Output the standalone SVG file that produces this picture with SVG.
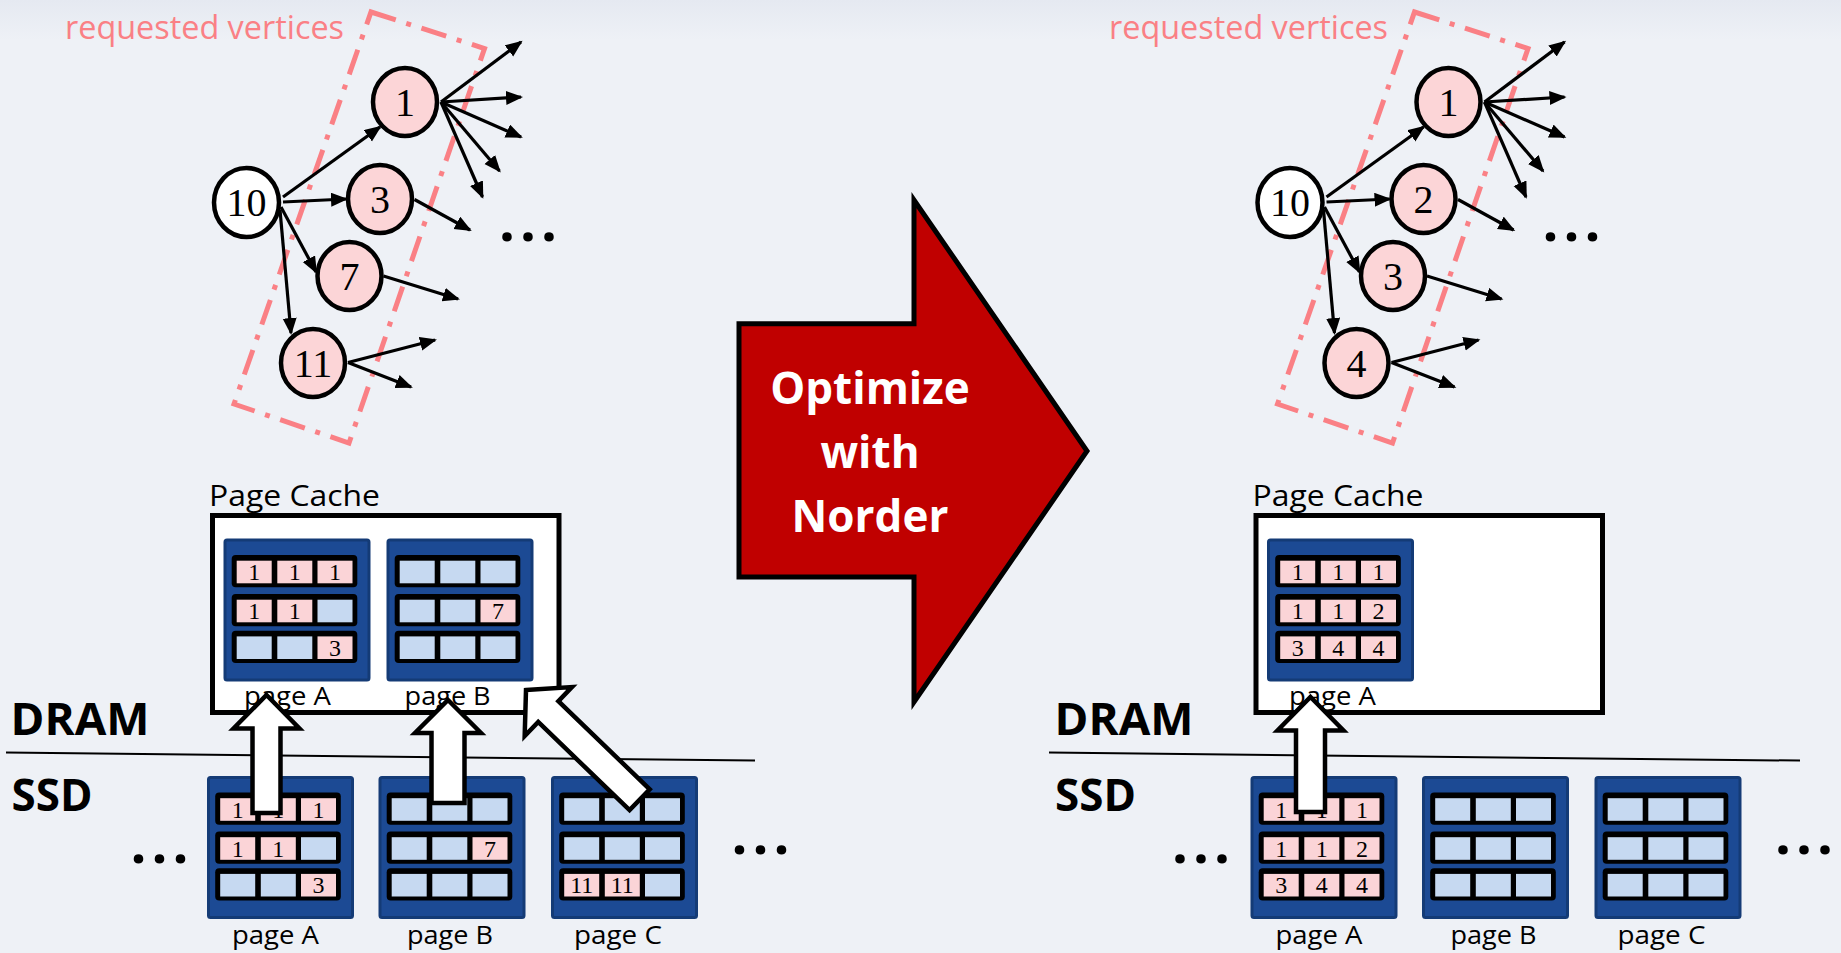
<svg xmlns="http://www.w3.org/2000/svg" xmlns:xlink="http://www.w3.org/1999/xlink" width="1841" height="953" viewBox="0 0 1841 953">
<style>
.bg{fill:#EEF1F6}
.node{stroke:#000;stroke-width:4.5}
.pinkn{fill:#FCD5D7}
.whiten{fill:#fff}
.nlab{font-family:"Liberation Serif",serif;font-size:40px;text-anchor:middle;fill:#000}
.edge{stroke:#000;stroke-width:3.2;fill:none;marker-end:url(#ah)}
.req{fill:none;stroke:#FA8085;stroke-width:5;stroke-dasharray:26 11 5 11}
.reqt{font-family:"Open Sans",sans-serif;font-size:32px;fill:#FA8085}
.lbl{font-family:"Open Sans",sans-serif;font-size:26px;fill:#000}
.cap{font-family:"Open Sans",sans-serif;font-size:30px;fill:#000}
.big{font-family:"Open Sans",sans-serif;font-weight:bold;font-size:44px;fill:#000}
.dots{font-family:"Open Sans",sans-serif;font-weight:bold;font-size:56px;fill:#000;letter-spacing:5px}
.opt{font-family:"Open Sans",sans-serif;font-weight:bold;font-size:44px;fill:#fff;text-anchor:middle}
.pk{fill:#FBD4D7}
.bl{fill:#C6D9F1}
.ct{font-family:"Liberation Serif",serif;font-size:24px;text-anchor:middle;fill:#000}
.barrow{fill:#fff;stroke:#000;stroke-width:4.5;stroke-linejoin:miter}
.div{stroke:#000;stroke-width:2}
.cache{fill:#fff;stroke:#000;stroke-width:5}
</style>
<defs>
<linearGradient id="topg" x1="0" y1="0" x2="0" y2="1">
<stop offset="0" stop-color="#E5E9F1"/>
<stop offset="1" stop-color="#EEF1F6"/>
</linearGradient>
<marker id="ah" markerUnits="userSpaceOnUse" markerWidth="18" markerHeight="16" refX="15" refY="7" orient="auto">
<path d="M0,0 L17,7 L0,14 Z" fill="#000"/>
</marker>
<g id="blk">
<rect x="0" y="0" width="144" height="140" rx="2" fill="#1C4A94" stroke="#143B76" stroke-width="3"/>
<rect x="6.7" y="15" width="125.6" height="32.3" rx="4" fill="#000"/>
<rect x="6.7" y="54" width="125.6" height="32.3" rx="4" fill="#000"/>
<rect x="6.7" y="90.7" width="125.6" height="32.3" rx="4" fill="#000"/>
</g>
</defs>
<rect class="bg" x="0" y="0" width="1841" height="953"/>
<rect x="0" y="0" width="1841" height="40" fill="url(#topg)"/>

<!-- LEFT GRAPH -->
<g id="left-requested">
<polygon class="req" points="371,12 484.5,48.5 349,443 234,404"/>
<text class="reqt" x="65" y="39" textLength="279" lengthAdjust="spacingAndGlyphs">requested vertices</text>
</g>
<g id="left-edges">
<line class="edge" x1="283" y1="197" x2="380" y2="127"/>
<line class="edge" x1="283" y1="202" x2="346" y2="199"/>
<line class="edge" x1="281" y1="207" x2="316" y2="272"/>
<line class="edge" x1="280" y1="210" x2="291" y2="333"/>
<line class="edge" x1="441" y1="102" x2="521" y2="42"/>
<line class="edge" x1="441" y1="102" x2="521" y2="97"/>
<line class="edge" x1="441" y1="102" x2="521" y2="137"/>
<line class="edge" x1="441" y1="102" x2="499.5" y2="171"/>
<line class="edge" x1="441" y1="102" x2="482.5" y2="197"/>
<line class="edge" x1="414.5" y1="199.5" x2="470" y2="230"/>
<line class="edge" x1="383.5" y1="276" x2="458" y2="299"/>
<line class="edge" x1="348" y1="362.5" x2="435" y2="340"/>
<line class="edge" x1="348" y1="362.5" x2="411" y2="387"/>
</g>
<g id="left-n10"><ellipse class="node whiten" cx="246.5" cy="202.5" rx="32.5" ry="34.5"/><text class="nlab" x="246.5" y="216">10</text></g>
<g id="left-n1"><ellipse class="node pinkn" cx="405" cy="102" rx="32" ry="34"/><text class="nlab" x="405" y="115.5">1</text></g>
<g id="left-n3"><ellipse class="node pinkn" cx="380" cy="199" rx="32" ry="34"/><text class="nlab" x="380" y="212.5">3</text></g>
<g id="left-n7"><ellipse class="node pinkn" cx="349.5" cy="276" rx="32" ry="34"/><text class="nlab" x="349.5" y="289.5">7</text></g>
<g id="left-n11"><ellipse class="node pinkn" cx="313" cy="363" rx="32" ry="34"/><text class="nlab" x="313" y="376.5">11</text></g>
<text class="dots" x="499" y="241">...</text>

<!-- CENTER ARROW -->
<g id="optimize">
<polygon points="739,323.8 914,323.8 914,200 1087,451 914,702 914,577 739,577" fill="#C00000" stroke="#000" stroke-width="5"/>
<text class="opt" x="870" y="404">Optimize</text>
<text class="opt" x="870" y="468">with</text>
<text class="opt" x="870" y="532">Norder</text>
</g>

<!-- RIGHT GRAPH -->
<g id="right-requested">
<polygon class="req" points="1414.5,12 1528,48.5 1392.5,443 1277.5,404"/>
<text class="reqt" x="1109" y="39" textLength="279" lengthAdjust="spacingAndGlyphs">requested vertices</text>
</g>
<g id="right-edges" transform="translate(1043.5,0)">
<line class="edge" x1="283" y1="197" x2="380" y2="127"/>
<line class="edge" x1="283" y1="202" x2="346" y2="199"/>
<line class="edge" x1="281" y1="207" x2="316" y2="272"/>
<line class="edge" x1="280" y1="210" x2="291" y2="333"/>
<line class="edge" x1="441" y1="102" x2="521" y2="42"/>
<line class="edge" x1="441" y1="102" x2="521" y2="97"/>
<line class="edge" x1="441" y1="102" x2="521" y2="137"/>
<line class="edge" x1="441" y1="102" x2="499.5" y2="171"/>
<line class="edge" x1="441" y1="102" x2="482.5" y2="197"/>
<line class="edge" x1="414.5" y1="199.5" x2="470" y2="230"/>
<line class="edge" x1="383.5" y1="276" x2="458" y2="299"/>
<line class="edge" x1="348" y1="362.5" x2="435" y2="340"/>
<line class="edge" x1="348" y1="362.5" x2="411" y2="387"/>
</g>
<g id="right-n10"><ellipse class="node whiten" cx="1290" cy="202.5" rx="32.5" ry="34.5"/><text class="nlab" x="1290" y="216">10</text></g>
<g id="right-n1"><ellipse class="node pinkn" cx="1448.5" cy="102" rx="32" ry="34"/><text class="nlab" x="1448.5" y="115.5">1</text></g>
<g id="right-n2"><ellipse class="node pinkn" cx="1423.5" cy="199" rx="32" ry="34"/><text class="nlab" x="1423.5" y="212.5">2</text></g>
<g id="right-n3"><ellipse class="node pinkn" cx="1393" cy="276" rx="32" ry="34"/><text class="nlab" x="1393" y="289.5">3</text></g>
<g id="right-n4"><ellipse class="node pinkn" cx="1356.5" cy="363" rx="32" ry="34"/><text class="nlab" x="1356.5" y="376.5">4</text></g>
<text class="dots" x="1542.5" y="241">...</text>

<!-- LEFT MEMORY -->
<g id="left-cache">
<text class="cap" x="209" y="506" textLength="171" lengthAdjust="spacingAndGlyphs">Page Cache</text>
<rect class="cache" x="212.5" y="515.5" width="346.5" height="197"/>
</g>
<g id="left-cache-pageA" transform="translate(225,540)">
<use xlink:href="#blk"/>
<rect class="pk" x="11.7" y="20.7" width="35" height="22.6"/><rect class="pk" x="52.3" y="20.7" width="35" height="22.6"/><rect class="pk" x="92.5" y="20.7" width="35" height="22.6"/>
<rect class="pk" x="11.7" y="59.7" width="35" height="22.6"/><rect class="pk" x="52.3" y="59.7" width="35" height="22.6"/><rect class="bl" x="92.5" y="59.7" width="35" height="22.6"/>
<rect class="bl" x="11.7" y="96.4" width="35" height="22.6"/><rect class="bl" x="52.3" y="96.4" width="35" height="22.6"/><rect class="pk" x="92.5" y="96.4" width="35" height="22.6"/>
<text class="ct" x="29.2" y="40">1</text><text class="ct" x="69.8" y="40">1</text><text class="ct" x="110" y="40">1</text>
<text class="ct" x="29.2" y="79">1</text><text class="ct" x="69.8" y="79">1</text>
<text class="ct" x="110" y="115.7">3</text>
</g>
<g id="left-cache-pageB" transform="translate(388,540)">
<use xlink:href="#blk"/>
<rect class="bl" x="11.7" y="20.7" width="35" height="22.6"/><rect class="bl" x="52.3" y="20.7" width="35" height="22.6"/><rect class="bl" x="92.5" y="20.7" width="35" height="22.6"/>
<rect class="bl" x="11.7" y="59.7" width="35" height="22.6"/><rect class="bl" x="52.3" y="59.7" width="35" height="22.6"/><rect class="pk" x="92.5" y="59.7" width="35" height="22.6"/>
<rect class="bl" x="11.7" y="96.4" width="35" height="22.6"/><rect class="bl" x="52.3" y="96.4" width="35" height="22.6"/><rect class="bl" x="92.5" y="96.4" width="35" height="22.6"/>
<text class="ct" x="110" y="79">7</text>
</g>
<text class="lbl" x="244" y="705" textLength="87" lengthAdjust="spacingAndGlyphs">page A</text>
<text class="lbl" x="404.6" y="705" textLength="86" lengthAdjust="spacingAndGlyphs">page B</text>

<text class="big" x="10.5" y="735" textLength="139" lengthAdjust="spacingAndGlyphs">DRAM</text>
<text class="big" x="11.5" y="811" textLength="81" lengthAdjust="spacingAndGlyphs">SSD</text>
<line class="div" x1="6" y1="752.6" x2="755" y2="760.6"/>

<g id="left-ssd-pageA" transform="translate(208.5,777.5)">
<use xlink:href="#blk"/>
<rect class="pk" x="11.7" y="20.7" width="35" height="22.6"/><rect class="pk" x="52.3" y="20.7" width="35" height="22.6"/><rect class="pk" x="92.5" y="20.7" width="35" height="22.6"/>
<rect class="pk" x="11.7" y="59.7" width="35" height="22.6"/><rect class="pk" x="52.3" y="59.7" width="35" height="22.6"/><rect class="bl" x="92.5" y="59.7" width="35" height="22.6"/>
<rect class="bl" x="11.7" y="96.4" width="35" height="22.6"/><rect class="bl" x="52.3" y="96.4" width="35" height="22.6"/><rect class="pk" x="92.5" y="96.4" width="35" height="22.6"/>
<text class="ct" x="29.2" y="40">1</text><text class="ct" x="69.8" y="40">1</text><text class="ct" x="110" y="40">1</text>
<text class="ct" x="29.2" y="79">1</text><text class="ct" x="69.8" y="79">1</text>
<text class="ct" x="110" y="115.7">3</text>
</g>
<g id="left-ssd-pageB" transform="translate(380,777.5)">
<use xlink:href="#blk"/>
<rect class="bl" x="11.7" y="20.7" width="35" height="22.6"/><rect class="bl" x="52.3" y="20.7" width="35" height="22.6"/><rect class="bl" x="92.5" y="20.7" width="35" height="22.6"/>
<rect class="bl" x="11.7" y="59.7" width="35" height="22.6"/><rect class="bl" x="52.3" y="59.7" width="35" height="22.6"/><rect class="pk" x="92.5" y="59.7" width="35" height="22.6"/>
<rect class="bl" x="11.7" y="96.4" width="35" height="22.6"/><rect class="bl" x="52.3" y="96.4" width="35" height="22.6"/><rect class="bl" x="92.5" y="96.4" width="35" height="22.6"/>
<text class="ct" x="110" y="79">7</text>
</g>
<g id="left-ssd-pageC" transform="translate(552.5,777.5)">
<use xlink:href="#blk"/>
<rect class="bl" x="11.7" y="20.7" width="35" height="22.6"/><rect class="bl" x="52.3" y="20.7" width="35" height="22.6"/><rect class="bl" x="92.5" y="20.7" width="35" height="22.6"/>
<rect class="bl" x="11.7" y="59.7" width="35" height="22.6"/><rect class="bl" x="52.3" y="59.7" width="35" height="22.6"/><rect class="bl" x="92.5" y="59.7" width="35" height="22.6"/>
<rect class="pk" x="11.7" y="96.4" width="35" height="22.6"/><rect class="pk" x="52.3" y="96.4" width="35" height="22.6"/><rect class="bl" x="92.5" y="96.4" width="35" height="22.6"/>
<text class="ct" x="29.2" y="115.7">11</text><text class="ct" x="69.8" y="115.7">11</text>
</g>
<text class="lbl" x="232" y="944" textLength="87" lengthAdjust="spacingAndGlyphs">page A</text>
<text class="lbl" x="407" y="944" textLength="86" lengthAdjust="spacingAndGlyphs">page B</text>
<text class="lbl" x="574" y="944" textLength="88" lengthAdjust="spacingAndGlyphs">page C</text>
<text class="dots" x="130.5" y="863">...</text>
<text class="dots" x="731.5" y="853.5">...</text>

<!-- RIGHT MEMORY -->
<g id="right-cache">
<text class="cap" x="1252.5" y="506" textLength="171" lengthAdjust="spacingAndGlyphs">Page Cache</text>
<rect class="cache" x="1256" y="515.5" width="346.5" height="197"/>
</g>
<g id="right-cache-pageA" transform="translate(1268.5,540)">
<use xlink:href="#blk"/>
<rect class="pk" x="11.7" y="20.7" width="35" height="22.6"/><rect class="pk" x="52.3" y="20.7" width="35" height="22.6"/><rect class="pk" x="92.5" y="20.7" width="35" height="22.6"/>
<rect class="pk" x="11.7" y="59.7" width="35" height="22.6"/><rect class="pk" x="52.3" y="59.7" width="35" height="22.6"/><rect class="pk" x="92.5" y="59.7" width="35" height="22.6"/>
<rect class="pk" x="11.7" y="96.4" width="35" height="22.6"/><rect class="pk" x="52.3" y="96.4" width="35" height="22.6"/><rect class="pk" x="92.5" y="96.4" width="35" height="22.6"/>
<text class="ct" x="29.2" y="40">1</text><text class="ct" x="69.8" y="40">1</text><text class="ct" x="110" y="40">1</text>
<text class="ct" x="29.2" y="79">1</text><text class="ct" x="69.8" y="79">1</text><text class="ct" x="110" y="79">2</text>
<text class="ct" x="29.2" y="115.7">3</text><text class="ct" x="69.8" y="115.7">4</text><text class="ct" x="110" y="115.7">4</text>
</g>
<text class="lbl" x="1289" y="705" textLength="87" lengthAdjust="spacingAndGlyphs">page A</text>

<text class="big" x="1054.5" y="735" textLength="139" lengthAdjust="spacingAndGlyphs">DRAM</text>
<text class="big" x="1055" y="811" textLength="81" lengthAdjust="spacingAndGlyphs">SSD</text>
<line class="div" x1="1049" y1="752.6" x2="1800" y2="760.6"/>

<g id="right-ssd-pageA" transform="translate(1252,777.5)">
<use xlink:href="#blk"/>
<rect class="pk" x="11.7" y="20.7" width="35" height="22.6"/><rect class="pk" x="52.3" y="20.7" width="35" height="22.6"/><rect class="pk" x="92.5" y="20.7" width="35" height="22.6"/>
<rect class="pk" x="11.7" y="59.7" width="35" height="22.6"/><rect class="pk" x="52.3" y="59.7" width="35" height="22.6"/><rect class="pk" x="92.5" y="59.7" width="35" height="22.6"/>
<rect class="pk" x="11.7" y="96.4" width="35" height="22.6"/><rect class="pk" x="52.3" y="96.4" width="35" height="22.6"/><rect class="pk" x="92.5" y="96.4" width="35" height="22.6"/>
<text class="ct" x="29.2" y="40">1</text><text class="ct" x="69.8" y="40">1</text><text class="ct" x="110" y="40">1</text>
<text class="ct" x="29.2" y="79">1</text><text class="ct" x="69.8" y="79">1</text><text class="ct" x="110" y="79">2</text>
<text class="ct" x="29.2" y="115.7">3</text><text class="ct" x="69.8" y="115.7">4</text><text class="ct" x="110" y="115.7">4</text>
</g>
<g id="right-ssd-pageB" transform="translate(1423.5,777.5)">
<use xlink:href="#blk"/>
<rect class="bl" x="11.7" y="20.7" width="35" height="22.6"/><rect class="bl" x="52.3" y="20.7" width="35" height="22.6"/><rect class="bl" x="92.5" y="20.7" width="35" height="22.6"/>
<rect class="bl" x="11.7" y="59.7" width="35" height="22.6"/><rect class="bl" x="52.3" y="59.7" width="35" height="22.6"/><rect class="bl" x="92.5" y="59.7" width="35" height="22.6"/>
<rect class="bl" x="11.7" y="96.4" width="35" height="22.6"/><rect class="bl" x="52.3" y="96.4" width="35" height="22.6"/><rect class="bl" x="92.5" y="96.4" width="35" height="22.6"/>
</g>
<g id="right-ssd-pageC" transform="translate(1596,777.5)">
<use xlink:href="#blk"/>
<rect class="bl" x="11.7" y="20.7" width="35" height="22.6"/><rect class="bl" x="52.3" y="20.7" width="35" height="22.6"/><rect class="bl" x="92.5" y="20.7" width="35" height="22.6"/>
<rect class="bl" x="11.7" y="59.7" width="35" height="22.6"/><rect class="bl" x="52.3" y="59.7" width="35" height="22.6"/><rect class="bl" x="92.5" y="59.7" width="35" height="22.6"/>
<rect class="bl" x="11.7" y="96.4" width="35" height="22.6"/><rect class="bl" x="52.3" y="96.4" width="35" height="22.6"/><rect class="bl" x="92.5" y="96.4" width="35" height="22.6"/>
</g>
<text class="lbl" x="1275.5" y="944" textLength="87" lengthAdjust="spacingAndGlyphs">page A</text>
<text class="lbl" x="1450.5" y="944" textLength="86" lengthAdjust="spacingAndGlyphs">page B</text>
<text class="lbl" x="1617.5" y="944" textLength="88" lengthAdjust="spacingAndGlyphs">page C</text>
<text class="dots" x="1172" y="863">...</text>
<text class="dots" x="1775" y="853.5">...</text>

<!-- BLOCK ARROWS (SSD -> DRAM) -->
<g id="load-arrows">
<path class="barrow" transform="translate(266.5,695)" d="M0,0 L33,33.5 L14,33.5 L14,118 L-14,118 L-14,33.5 L-33,33.5 Z"/>
<path class="barrow" transform="translate(448,700)" d="M0,0 L33,33 L16.5,33 L16.5,103 L-16.5,103 L-16.5,33 L-33,33 Z"/>
<path class="barrow" transform="translate(526,690) rotate(-46)" d="M0,0 L34,31 L14.5,31 L14.5,158 L-14.5,158 L-14.5,31 L-34,31 Z"/>
<path class="barrow" transform="translate(1310.5,697)" d="M0,0 L33,33.5 L14.5,33.5 L14.5,115 L-14.5,115 L-14.5,33.5 L-33,33.5 Z"/>
</g>
</svg>
